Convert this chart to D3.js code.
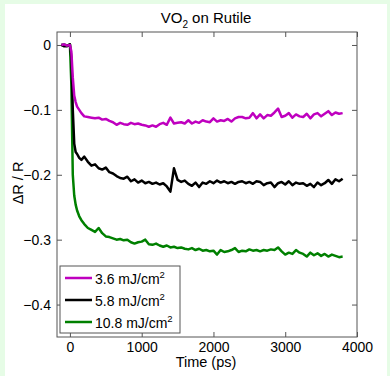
<!DOCTYPE html>
<html><head><meta charset="utf-8">
<script src="https://cdn.jsdelivr.net/npm/d3@7"></script>
<style>
html,body{margin:0;padding:0;background:#e6fce6;}
svg{display:block;font-family:"Liberation Sans",Arial,sans-serif;}
</style></head>
<body><svg id="c" width="390" height="376"></svg>
<script>
const times = [-120,-80,-40,0,20,40,60,80,100,130,160,200,
250,300,350,400,450,500,550,600,650,700,750,800,850,900,950,1000,
1050,1100,1150,1200,1250,1300,1350,1400,1450,1500,1550,1600,1650,1700,1750,1800,
1850,1900,1950,2000,2050,2100,2150,2200,2250,2300,2350,2400,2450,2500,2550,2600,
2650,2700,2750,2800,2850,2900,2950,3000,3050,3100,3150,3200,3250,3300,3350,3400,
3450,3500,3550,3600,3650,3700,3750,3800];

const mag = [0,0.001,-0.001,0,-0.01,-0.05,-0.078,-0.088,-0.095,-0.1,-0.105,-0.11,
-0.111,-0.112,-0.113,-0.112,-0.115,-0.114,-0.117,-0.119,-0.123,-0.12,-0.122,-0.123,-0.12,-0.122,-0.121,-0.123,
-0.124,-0.126,-0.124,-0.126,-0.122,-0.12,-0.123,-0.112,-0.121,-0.12,-0.119,-0.121,-0.116,-0.121,-0.118,-0.12,
-0.116,-0.118,-0.119,-0.113,-0.118,-0.116,-0.117,-0.114,-0.118,-0.113,-0.111,-0.111,-0.113,-0.112,-0.105,-0.113,
-0.107,-0.113,-0.108,-0.109,-0.104,-0.098,-0.111,-0.109,-0.105,-0.112,-0.107,-0.11,-0.111,-0.106,-0.113,-0.107,
-0.105,-0.11,-0.106,-0.102,-0.108,-0.104,-0.106,-0.105];

const blk = [0,-0.002,-0.002,0.001,-0.02,-0.1,-0.152,-0.165,-0.168,-0.174,-0.177,-0.172,
-0.18,-0.186,-0.184,-0.19,-0.192,-0.189,-0.196,-0.198,-0.202,-0.205,-0.206,-0.203,-0.21,-0.207,-0.212,-0.209,
-0.213,-0.211,-0.214,-0.212,-0.215,-0.213,-0.218,-0.226,-0.19,-0.208,-0.211,-0.209,-0.214,-0.217,-0.212,-0.219,
-0.212,-0.214,-0.21,-0.213,-0.209,-0.212,-0.21,-0.213,-0.211,-0.214,-0.211,-0.21,-0.213,-0.211,-0.214,-0.21,
-0.211,-0.216,-0.213,-0.212,-0.219,-0.213,-0.211,-0.215,-0.21,-0.216,-0.212,-0.214,-0.213,-0.217,-0.214,-0.219,
-0.212,-0.216,-0.213,-0.208,-0.214,-0.207,-0.21,-0.206];

const grn = [0,0.001,-0.001,0.001,-0.06,-0.2,-0.232,-0.246,-0.255,-0.264,-0.27,-0.276,
-0.282,-0.285,-0.288,-0.282,-0.29,-0.295,-0.296,-0.298,-0.3,-0.299,-0.301,-0.3,-0.304,-0.306,-0.304,-0.303,
-0.3,-0.307,-0.308,-0.306,-0.309,-0.311,-0.309,-0.312,-0.311,-0.313,-0.312,-0.314,-0.315,-0.313,-0.316,-0.314,
-0.317,-0.316,-0.318,-0.317,-0.323,-0.316,-0.319,-0.318,-0.316,-0.313,-0.319,-0.317,-0.318,-0.315,-0.317,-0.316,
-0.318,-0.316,-0.317,-0.315,-0.316,-0.312,-0.318,-0.323,-0.32,-0.322,-0.316,-0.32,-0.322,-0.326,-0.32,-0.324,
-0.321,-0.325,-0.322,-0.326,-0.323,-0.325,-0.327,-0.326];

const seriesNames = ["3.6 mJ/cm", "5.8 mJ/cm", "10.8 mJ/cm"];
const seriesColors = ["#bf00bf", "#000000", "#008000"];
const seriesValues = [mag, blk, grn];
const xTicks = [0,1000,2000,3000,4000];
const yTicks = [0,-0.1,-0.2,-0.3,-0.4];

const svg = d3.select("#c");
svg.append("rect").attr("x",5).attr("y",4).attr("width",382).attr("height",372).attr("fill","#fff");

const L=57, R=357, T=32, B=337;
const x = d3.scaleLinear().domain([-180,4000]).range([L,R]);
const y = d3.scaleLinear().domain([-0.45,0.02]).range([B,T]);

const axCol="#555";
const g = svg.append("g");
g.append("g").attr("transform",`translate(0,${B})`).call(d3.axisBottom(x).tickValues(xTicks).tickSizeInner(-5).tickSizeOuter(0).tickPadding(5).tickFormat(d3.format("d")));
g.append("g").attr("transform",`translate(0,${T})`).call(d3.axisTop(x).tickValues(xTicks).tickSizeInner(-5).tickSizeOuter(0).tickFormat(""));
g.append("g").attr("transform",`translate(${L},0)`).call(d3.axisLeft(y).tickValues(yTicks).tickSizeInner(-5).tickSizeOuter(0).tickPadding(6).tickFormat(d=>d===0?"0":d3.format(".1f")(d)));
g.append("g").attr("transform",`translate(${R},0)`).call(d3.axisRight(y).tickValues(yTicks).tickSizeInner(-5).tickSizeOuter(0).tickFormat(""));
g.selectAll(".domain").remove();
g.selectAll("line").attr("stroke",axCol);
g.selectAll("text").style("font-size","14px").attr("fill","#000").style("font-family","'Liberation Sans', Arial, sans-serif");
g.append("rect").attr("x",L).attr("y",T).attr("width",R-L).attr("height",B-T).attr("fill","none").attr("stroke",axCol).attr("stroke-width",1);

svg.append("clipPath").attr("id","clp").append("rect").attr("x",L).attr("y",T).attr("width",R-L).attr("height",B-T);
const line = d3.line().x((d,i)=>x(times[i])).y(d=>y(d));
const lines = svg.append("g").attr("clip-path","url(#clp)");
[2,1,0].forEach(k=>{
  lines.append("path").attr("d",line(seriesValues[k])).attr("fill","none")
    .attr("stroke",seriesColors[k]).attr("stroke-width",2.5).attr("stroke-linejoin","round");
});

const title = svg.append("text").attr("x",206).attr("y",23).attr("text-anchor","middle").style("font-size","15px");
title.append("tspan").text("VO");
title.append("tspan").style("font-size","10px").attr("dy",5).text("2");
title.append("tspan").attr("dy",-5).text(" on Rutile");

svg.append("text").attr("x",206).attr("y",367).attr("text-anchor","middle").style("font-size","14.5px").text("Time (ps)");
svg.append("text").attr("transform","translate(23,183) rotate(-90)").attr("text-anchor","middle").style("font-size","14.5px").text("ΔR / R");

const lg = svg.append("g");
lg.append("rect").attr("x",60).attr("y",266).attr("width",120).attr("height",67).attr("fill","#fff").attr("stroke",axCol);
seriesNames.forEach((n,i)=>{
  const yy = 278 + i*22;
  lg.append("line").attr("x1",65).attr("x2",92).attr("y1",yy).attr("y2",yy).attr("stroke",seriesColors[i]).attr("stroke-width",2.5);
  const t = lg.append("text").attr("x",95).attr("y",yy+6).style("font-size","14px");
  t.append("tspan").text(n);
  t.append("tspan").style("font-size","9.5px").attr("dy",-6).text("2");
});
</script></body></html>
